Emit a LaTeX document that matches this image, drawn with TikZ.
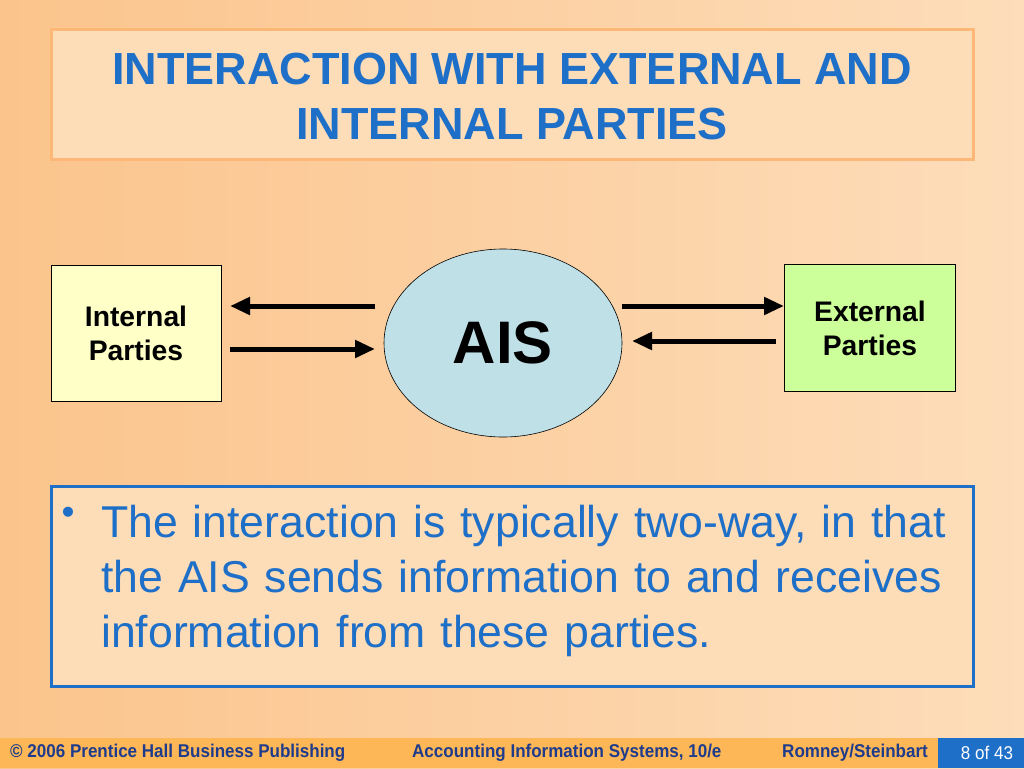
\documentclass[tikz,border=0pt]{standalone}
\usepackage{fontspec}
\setmainfont{Liberation Sans}
\newfontfamily\footfont[FakeStretch=0.92]{Liberation Sans}
\usepackage{xcolor}
\usetikzlibrary{shapes.geometric}
\usetikzlibrary{arrows.meta}
\usetikzlibrary{positioning}

\definecolor{bgleft}{HTML}{FBC48C}
\definecolor{bgright}{HTML}{FDDDBA}
\definecolor{panel}{HTML}{FDDCB8}
\definecolor{panelrule}{HTML}{FDB878}
\definecolor{slideblue}{HTML}{1E6FC8}
\definecolor{footbar}{HTML}{FDB756}
\definecolor{footink}{HTML}{1F3C8C}
\definecolor{intfill}{HTML}{FFFFC8}
\definecolor{extfill}{HTML}{CCFF99}
\definecolor{aisfill}{HTML}{BEE0E6}

\begin{document}
\begin{tikzpicture}[
  x=1pt, y=-1pt,
  party/.style={rectangle, draw=black, line width=0.6pt, align=center,
    font=\bfseries\fontsize{28.3}{34}\selectfont},
  flow/.style={-{Triangle[length=20pt, width=17pt]}, line width=5pt},
  foot/.style={anchor=west, inner sep=0pt, text=footink,
    font=\footfont\bfseries\fontsize{18.5}{20}\selectfont},
]
\useasboundingbox (0,0) rectangle (1024,768);
\fill[left color=bgleft, right color=bgright] (0,0) rectangle (1024,768);

% title panel
\draw[panelrule, line width=3pt, fill=panel] (51,30) rectangle (973,159);
\node (title) [align=center, text=slideblue,
  font=\bfseries\fontsize{45}{55}\selectfont] at (512,97)
  {INTERACTION WITH EXTERNAL AND\\INTERNAL PARTIES};

% the three parties
\node (ais) [ellipse, draw=black, line width=0.6pt, fill=aisfill,
  minimum width=238pt, minimum height=188pt,
  font=\bfseries\fontsize{60}{64}\selectfont] at (503,343) {AIS};
\node (int) [party, fill=intfill, minimum width=170pt, minimum height=136pt]
  at (136,333) {Internal\\Parties};
\node (ext) [party, fill=extfill, minimum width=171pt, minimum height=127pt]
  at (870,328) {External\\Parties};

\coordinate (i1) at (230,306);
\coordinate (i2) at (375,306);
\coordinate (i3) at (230,349);
\coordinate (i4) at (375,349);
\coordinate (e1) at (622,306);
\coordinate (e2) at (784,306);
\coordinate (e3) at (632,341);
\coordinate (e4) at (776,341);

\draw[flow] (i2) -- (i1);
\draw[flow] (i3) -- (i4);
\draw[flow] (e1) -- (e2);
\draw[flow] (e4) -- (e3);

% bullet panel
\draw[slideblue, line width=3pt, fill=panel] (51,486) rectangle (973,686);
\node (dot) [text=slideblue, inner sep=0pt,
  font=\fontsize{37}{40}\selectfont] at (68,516) {•};
\node (note) [anchor=north west, inner sep=0pt, text width=880pt,
  align=left, text=slideblue, font=\fontsize{44.6}{55}\selectfont]
  at (101,505) {The interaction is typically two-way, in that\\
  the AIS sends information to and receives\\
  information from these parties.};

% footer
\fill[footbar] (0,738) rectangle (1024,768);
\fill[slideblue] (938,738) rectangle (1024,768);
\node (copy) [foot] at (10,753) {© 2006 Prentice Hall Business Publishing};
\node (book) [foot] at (412,753) {Accounting Information Systems, 10/e};
\node (auth) [foot] at (782,753) {Romney/Steinbart};
\node (page) [inner sep=0pt, text=white,
  font=\footfont\fontsize{18.5}{20}\selectfont] at (987,753) {8 of 43};
\end{tikzpicture}
\end{document}
